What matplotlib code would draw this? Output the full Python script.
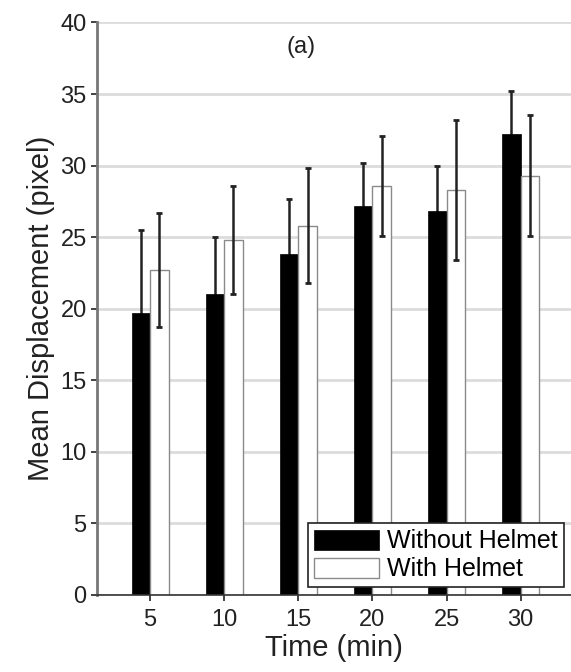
import numpy as np
import matplotlib
matplotlib.use("Agg")
import matplotlib.pyplot as plt

plt.rcParams['font.family'] = ['Liberation Sans', 'DejaVu Sans']

########## DATA ##########

times = [5, 10, 15, 20, 25, 30]
without_helmet = [19.7, 21.0, 23.8, 27.2, 26.8, 32.2]
without_err = [5.8, 4.0, 3.9, 3.0, 3.15, 3.0]
with_helmet = [22.7, 24.8, 25.8, 28.6, 28.3, 29.3]
with_err = [4.0, 3.75, 4.0, 3.5, 4.9, 4.2]

########## PLOT ##########

fig = plt.figure(figsize=(5.71, 6.72), dpi=100)
ax = fig.add_axes([0.170, 0.1146, 0.830, 0.852])

x = np.array(times, dtype=float)
w = 1.25

ax.bar(x, without_helmet, width=-w, align='edge', color='black',
       edgecolor='black', linewidth=0.5, zorder=2, label='Without Helmet')
ax.bar(x, with_helmet, width=w, align='edge', color='white',
       edgecolor='#8a8a8a', linewidth=1.0, zorder=2, label='With Helmet')

# black bar errors sit behind the bar so only the upper half shows
ax.errorbar(x - w / 2, without_helmet, yerr=without_err, fmt='none',
            ecolor='#222222', elinewidth=1.8, capsize=2.5, capthick=2, zorder=1.9)
ax.errorbar(x + w / 2, with_helmet, yerr=with_err, fmt='none',
            ecolor='#222222', elinewidth=1.8, capsize=2.5, capthick=2, zorder=3)

ax.set_xlim(1.42, 33.4)
ax.set_ylim(0, 40)
ax.set_xticks(times)
ax.set_yticks(np.arange(0, 41, 5))
ax.yaxis.grid(True, color='#dcdcdc', linewidth=2, zorder=0)
ax.set_axisbelow(True)

for s in ['top', 'right']:
    ax.spines[s].set_visible(False)
ax.spines['left'].set_color('#777777')
ax.spines['left'].set_linewidth(2)
ax.spines['bottom'].set_color('#333333')
ax.spines['bottom'].set_linewidth(1.2)

ax.tick_params(axis='both', labelsize=17, colors='#222222', length=4, width=1.2)
ax.tick_params(axis='x', pad=6)
ax.set_xlabel('Time (min)', fontsize=21, color='#222222', labelpad=2)
ax.set_ylabel('Mean Displacement (pixel)', fontsize=21, color='#222222', labelpad=4)

ax.text(0.43, 0.957, '(a)', transform=ax.transAxes, fontsize=17,
        ha='center', va='center', color='#222222')

leg = ax.legend(loc='lower right', fontsize=18, frameon=True, fancybox=False,
                edgecolor='#222222', framealpha=1, handlelength=2.6,
                handleheight=0.85, labelspacing=0.15, borderpad=0.25,
                handletextpad=0.3, borderaxespad=0.3)
leg.get_frame().set_linewidth(1.2)

fig.savefig("out.png", dpi=100)
plt.close(fig)
